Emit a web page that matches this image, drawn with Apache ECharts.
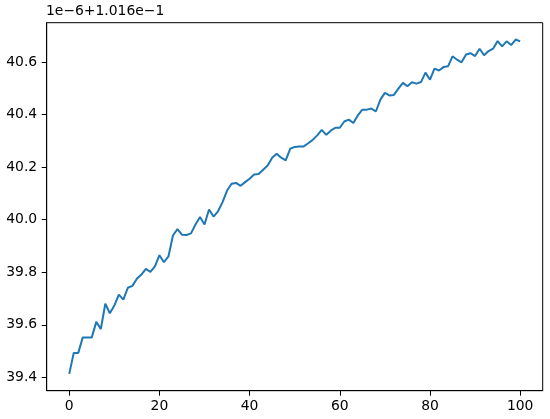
<!DOCTYPE html>
<html>
<head>
<meta charset="utf-8">
<script src="https://cdn.jsdelivr.net/npm/echarts@6/dist/echarts.min.js"></script>
<style>
  html, body { margin: 0; padding: 0; background: #fff; }
  #chart { width: 550px; height: 419px; }
</style>
</head>
<body>
<div id="chart"></div>
<script>
// values shown in units of 1e-6 above the offset 1.016e-1
var offsetText = "1e\u22126+1.016e\u22121";
var values = [
  39.413, 39.493, 39.493, 39.552, 39.552, 39.552, 39.611, 39.584, 39.680, 39.644,
  39.673, 39.715, 39.696, 39.741, 39.748, 39.775, 39.791, 39.813, 39.801, 39.822,
  39.865, 39.838, 39.860, 39.940, 39.964, 39.943, 39.942, 39.948, 39.982, 40.010,
  39.982, 40.039, 40.012, 40.032, 40.067, 40.111, 40.137, 40.140, 40.129, 40.143,
  40.156, 40.172, 40.174, 40.190, 40.206, 40.236, 40.251, 40.236, 40.226, 40.270,
  40.277, 40.279, 40.279, 40.291, 40.304, 40.321, 40.342, 40.323, 40.339, 40.350,
  40.350, 40.374, 40.381, 40.368, 40.397, 40.419, 40.419, 40.423, 40.412, 40.457,
  40.483, 40.473, 40.475, 40.499, 40.521, 40.508, 40.523, 40.518, 40.524, 40.560,
  40.533, 40.575, 40.568, 40.581, 40.584, 40.622, 40.609, 40.599, 40.629, 40.634,
  40.623, 40.651, 40.626, 40.642, 40.651, 40.680, 40.660, 40.679, 40.665, 40.686,
  40.679
];
var xTicks = [0, 20, 40, 60, 80, 100];
var yTicks = [39.4, 39.6, 39.8, 40.0, 40.2, 40.4, 40.6];

var chart = echarts.init(document.getElementById("chart"));
var font = "DejaVu Sans";
var points = values.map(function (v, i) { return [i, v]; });

var option = {
  animation: false,
  grid: {
    left: 46.7,
    right: 7.3,
    top: 22.7,
    bottom: 28.3,
    show: true,
    borderColor: "#000",
    borderWidth: 1,
    containLabel: false,
  },
  graphic: [
    {
      type: "text",
      left: 46,
      top: 4,
      style: {
        text: offsetText,
        font: "13.9px " + font,
        fill: "#000",
      },
    },
  ],
  xAxis: {
    type: "value",
    min: -5,
    max: 105,
    axisLine: { show: true, onZero: false, lineStyle: { color: "#000", width: 1 } },
    axisTick: {
      show: true,
      inside: false,
      length: 5,
      customValues: xTicks,
      lineStyle: { color: "#000", width: 1 },
    },
    axisLabel: {
      show: true,
      margin: 9,
      customValues: xTicks,
      color: "#000",
      fontFamily: font,
      fontSize: 13.9,
    },
    splitLine: { show: false },
  },
  yAxis: {
    type: "value",
    min: 39.349,
    max: 40.750,
    axisLine: { show: true, onZero: false, lineStyle: { color: "#000", width: 1 } },
    axisTick: {
      show: true,
      inside: false,
      length: 5,
      customValues: yTicks,
      lineStyle: { color: "#000", width: 1 },
    },
    axisLabel: {
      show: true,
      margin: 9.5,
      customValues: yTicks,
      color: "#000",
      fontFamily: font,
      fontSize: 13.9,
      formatter: function (v) { return v.toFixed(1); },
    },
    splitLine: { show: false },
  },
  series: [
    {
      type: "line",
      data: points,
      showSymbol: false,
      symbol: "none",
      lineStyle: { color: "#1f77b4", width: 2 },
    },
  ],
};

chart.setOption(option);
</script>
</body>
</html>
